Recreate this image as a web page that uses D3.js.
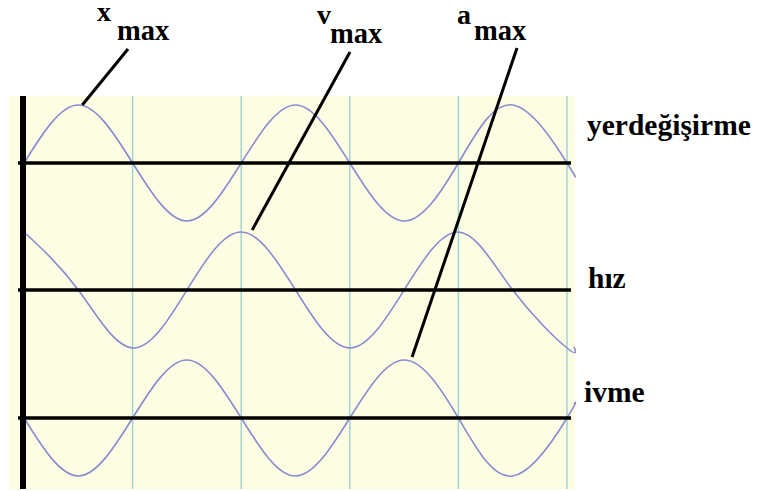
<!DOCTYPE html>
<html>
<head>
<meta charset="utf-8">
<script src="https://cdn.jsdelivr.net/npm/d3@7"></script>
<style>
  body { margin: 0; background: #fff; }
</style>
</head>
<body>
<div id="chart"></div>
<script>
// phase in quarter periods at zeros / extrema
const phase = [0, 1, 2, 3, 4, 5, 6, 7, 8, 9, 10, 10.13];
const displacement = [0, 1, 0, -1, 0, 1, 0, -1, 0, 1, 0, -0.2];
const velocity = [1, 0, -1, 0, 1, 0, -1, 0, 1, 0, -1, -0.98];
const acceleration = [0, -1, 0, 1, 0, -1, 0, 1, 0, -1, 0, 0.25];
const seriesNames = ["yerdeğişirme", "hız", "ivme"];
const gridTicks = [0, 2, 4, 6, 8, 10];
const maxLabels = ["x", "v", "a"];
// which point of each series the max label points at
const maxIndex = [1, 4, 7];

const width = 760, height = 491;
const fontName = "'Liberation Serif', monospace";
const svg = d3.select("#chart").append("svg")
    .attr("width", width)
    .attr("height", height);

const x = d3.scaleLinear().domain([0, 10]).range([24, 567]);
const centers = [163, 290, 418];
const amp = 58;
const yScales = centers.map(c => d3.scaleLinear().domain([-1, 1]).range([c + amp, c - amp]));
const allSeries = [displacement, velocity, acceleration];

// background panel
svg.append("rect")
    .attr("x", 9).attr("y", 96)
    .attr("width", 566).attr("height", 393)
    .attr("fill", "#fdfde4");

// vertical grid
svg.selectAll(".grid")
    .data(gridTicks)
    .enter()
    .append("line")
    .attr("class", "grid")
    .attr("x1", d => x(d)).attr("x2", d => x(d))
    .attr("y1", 96).attr("y2", 489)
    .attr("stroke", "#a3d3d3")
    .attr("stroke-width", 1.5);

// curves
const line = d3.line().curve(d3.curveNatural);
allSeries.forEach((s, i) => {
    svg.append("path")
        .attr("d", line(s.map((v, j) => [x(phase[j]), yScales[i](v)])))
        .attr("fill", "none")
        .attr("stroke", "#8a8ad2")
        .attr("stroke-width", 1.6);
});

// horizontal axes (zero lines)
yScales.forEach(y => {
    svg.append("line")
        .attr("x1", 18).attr("x2", 571)
        .attr("y1", y(0)).attr("y2", y(0))
        .attr("stroke", "#000")
        .attr("stroke-width", 3.5);
});

// left thick axis
svg.append("line")
    .attr("x1", 23).attr("x2", 23)
    .attr("y1", 96).attr("y2", 489)
    .attr("stroke", "#000")
    .attr("stroke-width", 6);

// right-side series names
const nameX = [587, 588, 584];
const nameY = [135, 288, 402];
seriesNames.forEach((n, i) => {
    svg.append("text")
        .attr("x", nameX[i]).attr("y", nameY[i])
        .attr("font-family", fontName)
        .attr("font-weight", "bold")
        .attr("font-size", 29.5)
        .text(n);
});

// max labels and pointer lines
const labelX = [97, 317, 457];
const labelY = [21, 24, 24];
const subX = [117, 330, 474];
const subY = [40, 43, 40];
const lineTop = [[128, 49], [350, 52], [517, 48]];
const tipOffset = [[4, 0], [11, -2], [8, -3]];
maxLabels.forEach((l, i) => {
    svg.append("text")
        .attr("x", labelX[i]).attr("y", labelY[i])
        .attr("font-family", fontName)
        .attr("font-weight", "bold")
        .attr("font-size", 28)
        .text(l);
    svg.append("text")
        .attr("x", subX[i]).attr("y", subY[i])
        .attr("font-family", fontName)
        .attr("font-weight", "bold")
        .attr("font-size", 28.5)
        .text("max");
    const k = maxIndex[i];
    svg.append("line")
        .attr("x1", lineTop[i][0]).attr("y1", lineTop[i][1])
        .attr("x2", x(phase[k]) + tipOffset[i][0])
        .attr("y2", yScales[i](allSeries[i][k]) + tipOffset[i][1])
        .attr("stroke", "#000")
        .attr("stroke-width", 3);
});
</script>
</body>
</html>
